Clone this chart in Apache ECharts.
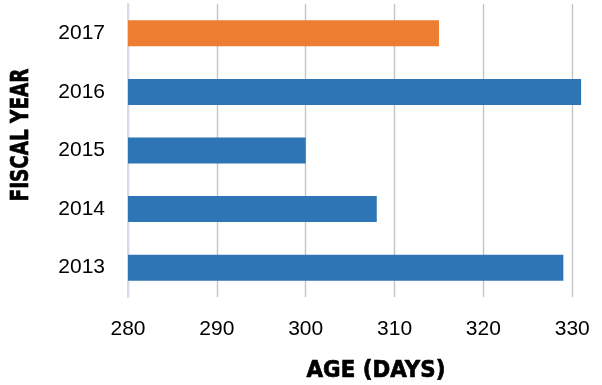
<!DOCTYPE html>
<html>
<head>
<meta charset="utf-8">
<script src="https://cdn.jsdelivr.net/npm/echarts@6/dist/echarts.min.js"></script>
<style>
  html, body { margin: 0; padding: 0; background: #fff; }
  #chart { width: 602px; height: 385px; }
</style>
</head>
<body>
<div id="chart"></div>
<script>
// Fiscal years, bottom to top
const fiscalYears = ['2013', '2014', '2015', '2016', '2017'];
// Average age in days per fiscal year
const ageDays = [329, 308, 300, 331, 315];
// Ticks on the age axis
const ageTicks = [280, 290, 300, 310, 320, 330];
const currentYear = '2017';

const BLUE = '#2e75b6';
const ORANGE = '#ed7d31';

// the plot runs a little past the last tick so the longest bar fits
const axisMax = 332;

const chart = echarts.init(document.getElementById('chart'));

// heavy, slightly condensed axis titles
const titleStyle = {
  font: 'bold 23px "DejaVu Sans"',
  fill: '#000',
  stroke: '#000',
  lineWidth: 0.7,
  align: 'center',
  verticalAlign: 'middle'
};

chart.setOption({
  animation: false,
  grid: { left: 128, right: 12, top: 4, bottom: 88, containLabel: false },
  xAxis: {
    type: 'value',
    min: ageTicks[0],
    max: axisMax,
    interval: ageTicks[1] - ageTicks[0],
    axisLine: { show: false },
    axisTick: { show: false },
    splitLine: { show: true, showMaxLine: false, lineStyle: { color: '#c4c4c4', width: 1.4 } },
    axisLabel: {
      margin: 22,
      showMaxLabel: false,
      fontFamily: 'Liberation Sans',
      fontSize: 21,
      color: '#000',
      formatter: v => (ageTicks.includes(v) ? String(v) : '')
    }
  },
  yAxis: {
    type: 'category',
    data: fiscalYears,
    axisLine: { show: true, lineStyle: { color: '#d5dae6', width: 2 } },
    axisTick: { show: false },
    splitLine: { show: false },
    axisLabel: {
      margin: 23,
      fontFamily: 'Liberation Sans',
      fontSize: 21,
      color: '#000'
    }
  },
  series: [{
    type: 'bar',
    barWidth: 26,
    data: ageDays.map((v, i) => ({
      value: v,
      itemStyle: { color: fiscalYears[i] === currentYear ? ORANGE : BLUE }
    }))
  }],
  graphic: [
    {
      type: 'text',
      x: 376,
      y: 371,
      scaleX: 0.93,
      style: Object.assign({ text: 'AGE (DAYS)' }, titleStyle)
    },
    {
      type: 'text',
      x: 22,
      y: 135,
      rotation: Math.PI / 2,
      scaleX: 0.8,
      scaleY: 1.05,
      style: Object.assign({ text: 'FISCAL YEAR' }, titleStyle)
    }
  ]
});
</script>
</body>
</html>
